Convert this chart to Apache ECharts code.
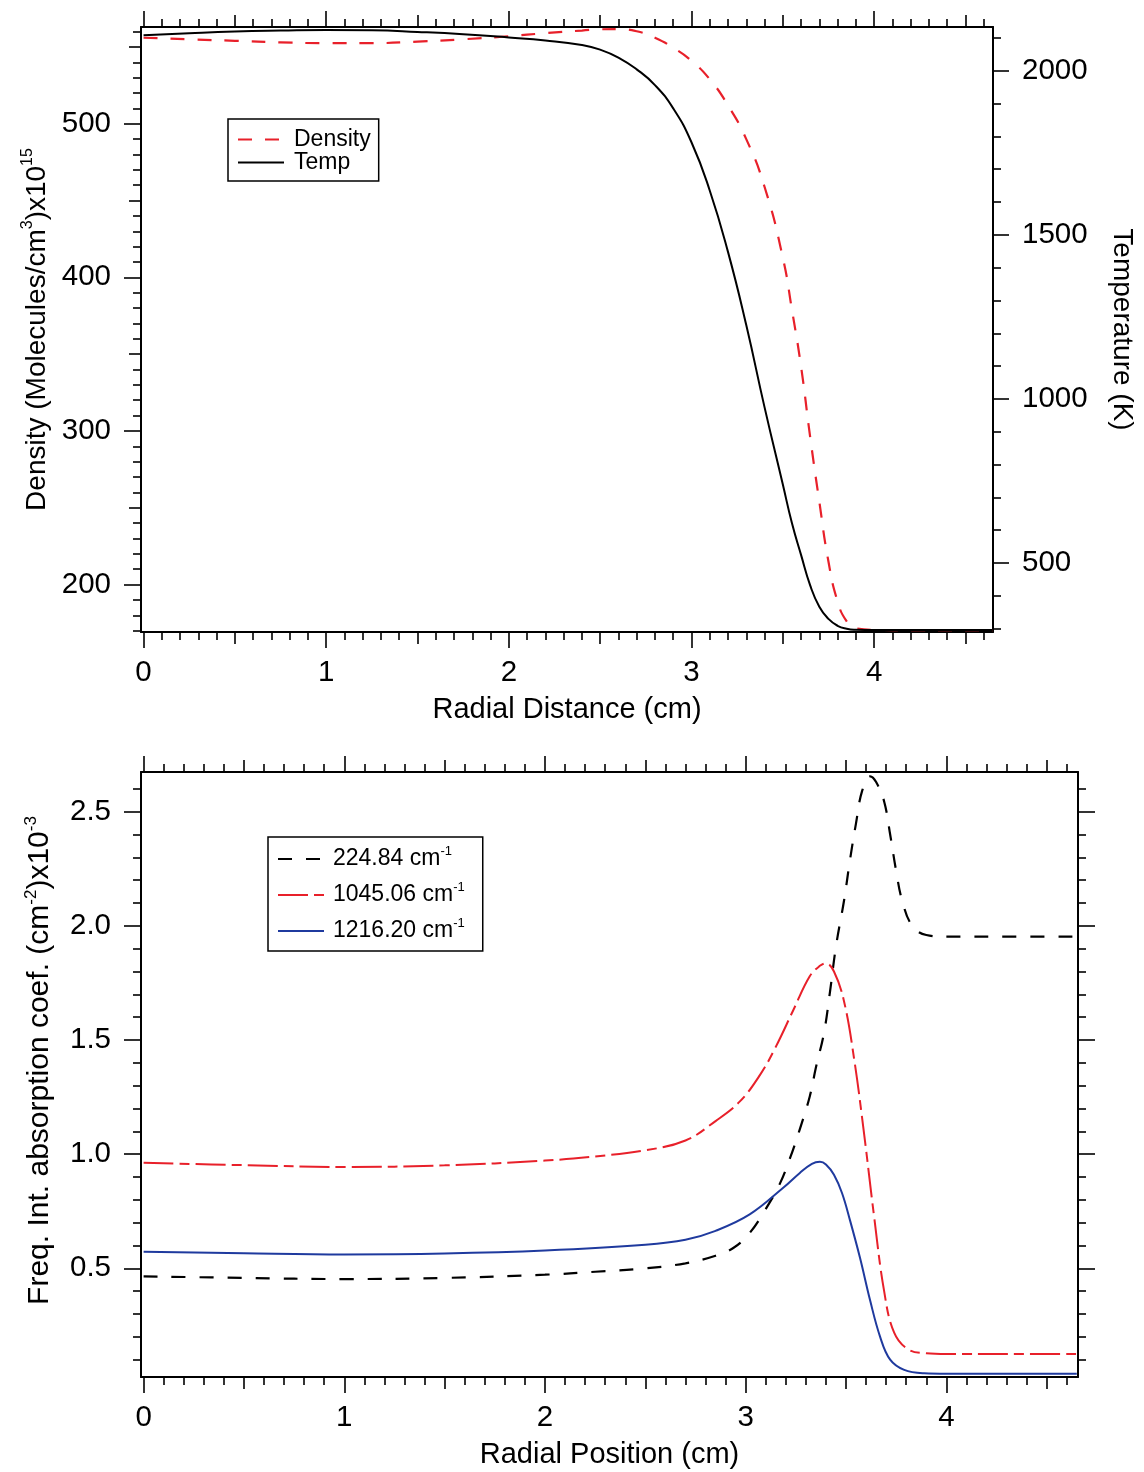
<!DOCTYPE html>
<html><head><meta charset="utf-8">
<script src="https://cdn.jsdelivr.net/npm/echarts@6/dist/echarts.min.js"></script>
<style>html,body{margin:0;padding:0;background:#fff}#c{width:1144px;height:1472px}</style>
</head><body><div id="c"></div>
<script>
// ---------- Top chart data (Radial Distance, cm) ----------
const topX = [0,0.25,0.5,0.75,1.0,1.25,1.5,1.75,2.0,2.2,2.4,2.5,2.6,2.7,2.8,2.9,3.0,3.1,3.2,3.3,3.4,3.5,3.55,3.6,3.65,3.7,3.75,3.8,3.85,3.9,4.0,4.2,4.4,4.65];
const density = [556,555,554,553,552.5,552.5,553.5,555,557,559,560.7,561.5,561.6,560.2,556,549.5,541,529,512,490,459,413,379,342,296,254,215,189,176,171.5,170.5,170.3,170.3,170.3];
const temperature = [2108,2114,2119,2122,2124,2123,2118,2111,2101,2092,2078,2064,2040,2004,1956,1885,1782,1635,1448,1225,975,740,622,525,432,367,330,309,300,297,296,296,296,296];

// ---------- Bottom chart data (Radial Position, cm) ----------
const x224 = [0,0.5,1.0,1.5,2.0,2.25,2.5,2.7,2.85,2.94,3.02,3.10,3.17,3.22,3.27,3.32,3.35,3.39,3.42,3.45,3.49,3.52,3.55,3.58,3.62,3.65,3.69,3.72,3.75,3.78,3.83,3.90,4.0,4.3,4.65];
const y224 = [0.465,0.458,0.453,0.458,0.472,0.485,0.5,0.522,0.555,0.59,0.655,0.76,0.87,0.98,1.11,1.255,1.38,1.53,1.71,1.91,2.11,2.29,2.45,2.59,2.655,2.63,2.545,2.40,2.24,2.11,2.0,1.96,1.953,1.953,1.953];
const x1045 = [0,0.5,1.0,1.5,2.0,2.25,2.5,2.7,2.85,2.97,3.07,3.15,3.24,3.32,3.37,3.40,3.44,3.49,3.54,3.59,3.64,3.69,3.74,3.81,3.90,4.0,4.3,4.65];
const y1045 = [0.962,0.952,0.944,0.951,0.972,0.99,1.017,1.06,1.145,1.23,1.345,1.47,1.636,1.78,1.825,1.836,1.80,1.67,1.42,1.09,0.727,0.40,0.218,0.145,0.128,0.125,0.125,0.125];
const x1216 = [0,0.5,1.0,1.5,2.0,2.5,2.7,2.85,3.02,3.19,3.27,3.33,3.37,3.40,3.44,3.48,3.52,3.57,3.62,3.67,3.72,3.79,3.89,4.0,4.3,4.65];
const y1216 = [0.573,0.566,0.561,0.565,0.578,0.603,0.625,0.664,0.736,0.855,0.918,0.958,0.967,0.955,0.91,0.83,0.71,0.545,0.36,0.20,0.10,0.055,0.04,0.038,0.038,0.038];

const topLegend = ['Density','Temp'];
const botLegend = ['224.84','1045.06','1216.20'];

// ---------- Tick labels ----------
const xMajor = [0,1,2,3,4];
const xMid = [0.5,1.5,2.5,3.5,4.5];
const densMajor = [200,300,400,500];
const densMid = [250,350,450,550];
const tempMajor = [500,1000,1500,2000];
const absMajor = [0.5,1.0,1.5,2.0,2.5];

function steps(from, to, step, skipEvery) {
  const out = [];
  for (let v = from; v <= to + 1e-9; v += step) {
    const r = Math.round(v / step);
    if (r % skipEvery !== 0) out.push(+(r * step).toFixed(4));
  }
  return out;
}
const xMinor = steps(0.1, 4.6, 0.1, 5);
const densMinor = steps(170, 560, 10, 5);
const tempMinor = steps(300, 2100, 100, 5);
const absMinor = steps(0.1, 2.6, 0.1, 5);

const FONT = "'Liberation Sans', Arial, Helvetica, sans-serif";
const K = '#000';
const TICKFS = 29.5;

function axis(o) {
  const a = {
    type: 'value', gridIndex: o.grid, position: o.pos, min: o.min, max: o.max,
    axisLine: {show: !!o.line, onZero: false, lineStyle: {color: K, width: 2}},
    axisTick: {show: true, inside: false, customValues: o.ticks, length: o.len, lineStyle: {color: K, width: 1.6}},
    axisLabel: o.labels ? {show: true, customValues: o.labels, margin: o.margin, fontSize: TICKFS, color: K, fontFamily: FONT, formatter: o.fmt} : {show: false},
    splitLine: {show: false}, minorTick: {show: false}, minorSplitLine: {show: false}
  };
  return Object.assign(a, o.extra || {});
}

const TX = {min: -0.014, max: 4.651};
const BX = {min: -0.013, max: 4.656};
const intFmt = v => String(Math.round(v));

const xAxes = [
  axis({grid:0,pos:'bottom',...TX,line:true,ticks:xMajor,len:16,labels:xMajor,margin:26,fmt:intFmt,
        extra:{name:'Radial Distance (cm)',nameLocation:'middle',nameGap:63,nameTextStyle:{fontSize:29,color:K,fontFamily:FONT}}}),
  axis({grid:0,pos:'bottom',...TX,ticks:xMid,len:12}),
  axis({grid:0,pos:'bottom',...TX,ticks:xMinor,len:8}),
  axis({grid:0,pos:'top',...TX,line:true,ticks:xMajor,len:16}),
  axis({grid:0,pos:'top',...TX,ticks:xMid,len:12}),
  axis({grid:0,pos:'top',...TX,ticks:xMinor,len:8}),
  axis({grid:1,pos:'bottom',...BX,line:true,ticks:xMajor,len:16,labels:xMajor,margin:26,fmt:intFmt,
        extra:{name:'Radial Position (cm)',nameLocation:'middle',nameGap:63,nameTextStyle:{fontSize:29,color:K,fontFamily:FONT}}}),
  axis({grid:1,pos:'bottom',...BX,ticks:xMid,len:12}),
  axis({grid:1,pos:'bottom',...BX,ticks:xMinor,len:8}),
  axis({grid:1,pos:'top',...BX,line:true,ticks:xMajor,len:16}),
  axis({grid:1,pos:'top',...BX,ticks:xMid,len:12}),
  axis({grid:1,pos:'top',...BX,ticks:xMinor,len:8})
];

const DY = {min: 169.1, max: 563};
const TY = {min: 290, max: 2133};
const AY = {min: 0.024, max: 2.674};

const yAxes = [
  axis({grid:0,pos:'left',...DY,line:true,ticks:densMajor,len:17,labels:densMajor,margin:30,fmt:intFmt,
        extra:{name:'{a|Density (Molecules/cm}{s|3}{a|)x10}{s|15}',nameLocation:'middle',nameRotate:90,nameGap:84,
               nameTextStyle:{fontSize:28,color:K,fontFamily:FONT,rich:{a:{fontSize:28,lineHeight:34,fontFamily:FONT,color:K},s:{fontSize:16,lineHeight:20,verticalAlign:'top',fontFamily:FONT,color:K}}}}}),
  axis({grid:0,pos:'left',...DY,ticks:densMid,len:12}),
  axis({grid:0,pos:'left',...DY,ticks:densMinor,len:8}),
  axis({grid:0,pos:'right',...TY,line:true,ticks:tempMajor,len:16,labels:tempMajor,margin:29,fmt:intFmt,
        extra:{name:'Temperature (K)',nameLocation:'middle',nameRotate:-90,nameGap:115,nameTextStyle:{fontSize:28,color:K,fontFamily:FONT}}}),
  axis({grid:0,pos:'right',...TY,ticks:tempMinor,len:8}),
  axis({grid:1,pos:'left',...AY,line:true,ticks:absMajor,len:17,labels:absMajor,margin:30,fmt:v=>v.toFixed(1),
        extra:{name:'{a|Freq. Int. absorption coef. (cm}{s|-2}{a|)x10}{s|-3}',nameLocation:'middle',nameRotate:90,nameGap:84,
               nameTextStyle:{fontSize:30,color:K,fontFamily:FONT,padding:[0,0,0,28],rich:{a:{fontSize:30,lineHeight:34,fontFamily:FONT,color:K},s:{fontSize:17,lineHeight:20,verticalAlign:'top',fontFamily:FONT,color:K}}}}}),
  axis({grid:1,pos:'left',...AY,ticks:absMinor,len:8}),
  axis({grid:1,pos:'right',...AY,line:true,ticks:absMajor,len:17}),
  axis({grid:1,pos:'right',...AY,ticks:absMinor,len:8})
];

const pairs = (xs, ys) => xs.map((x, i) => [x, ys[i]]);
const RED = '#e8202a', BLUE = '#1f3a9e';
const NOSYM = {color: 'rgba(0,0,0,0)', opacity: 0, borderWidth: 0};

const option = {
  animation: false,
  backgroundColor: '#fff',
  textStyle: {fontFamily: FONT, color: K},
  grid: [
    {left: 141, top: 27, width: 852, height: 605, containLabel: false},
    {left: 141, top: 772, width: 937, height: 605, containLabel: false}
  ],
  xAxis: xAxes,
  yAxis: yAxes,
  legend: [
    {data: topLegend, left: 228, top: 119, orient: 'vertical', itemWidth: 46, itemHeight: 14, itemGap: 0,
     padding: [9, 8, 7, 9], borderColor: K, borderWidth: 1.5, backgroundColor: '#fff', selectedMode: false,
     itemStyle: NOSYM,
     textStyle: {fontSize: 23, lineHeight: 23, color: K, fontFamily: FONT, padding: [0, 0, 0, 5]}},
    {data: botLegend, left: 268, top: 837, orient: 'vertical', itemWidth: 46, itemHeight: 14, itemGap: 8,
     padding: [8, 18, 6, 9], borderColor: K, borderWidth: 1.5, backgroundColor: '#fff', selectedMode: false,
     itemStyle: NOSYM,
     formatter: n => '{a|' + n + ' cm}{s|-1}',
     textStyle: {fontSize: 23, lineHeight: 28, color: K, fontFamily: FONT, padding: [0, 0, 0, 4],
       rich: {a: {fontSize: 23, lineHeight: 28, fontFamily: FONT, color: K}, s: {fontSize: 13, lineHeight: 18, verticalAlign: 'top', fontFamily: FONT, color: K}}}}
  ],
  series: [
    {name: 'Density', type: 'line', xAxisIndex: 0, yAxisIndex: 0, data: pairs(topX, density), smooth: 0.5,
     symbol: 'none', lineStyle: {color: RED, width: 2.2, type: [14, 13]}, itemStyle: {color: RED}},
    {name: 'Temp', type: 'line', xAxisIndex: 0, yAxisIndex: 3, data: pairs(topX, temperature), smooth: 0.5,
     symbol: 'none', lineStyle: {color: K, width: 2}, itemStyle: {color: K}},
    {name: '224.84', type: 'line', xAxisIndex: 6, yAxisIndex: 5, data: pairs(x224, y224), smooth: 0.4,
     symbol: 'none', lineStyle: {color: K, width: 2.2, type: [14, 14]}, itemStyle: {color: K}},
    {name: '1045.06', type: 'line', xAxisIndex: 6, yAxisIndex: 5, data: pairs(x1045, y1045), smooth: 0.4,
     symbol: 'none', lineStyle: {color: RED, width: 2, type: [30, 6, 10, 6]}, itemStyle: {color: RED}},
    {name: '1216.20', type: 'line', xAxisIndex: 6, yAxisIndex: 5, data: pairs(x1216, y1216), smooth: 0.4,
     symbol: 'none', lineStyle: {color: BLUE, width: 2}, itemStyle: {color: BLUE}}
  ]
};

const chart = echarts.init(document.getElementById('c'), null, {renderer: 'canvas'});
chart.setOption(option);
</script>
</body></html>
